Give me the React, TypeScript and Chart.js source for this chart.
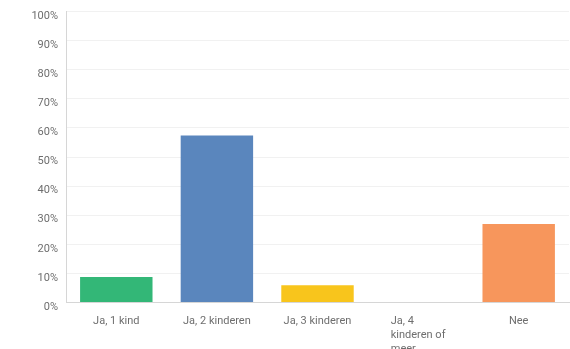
import React, { useEffect, useRef } from "react";
import { Chart, registerables } from "chart.js";

Chart.register(...registerables);

const categories: string[][] = [
  ["Ja, 1 kind"],
  ["Ja, 2 kinderen"],
  ["Ja, 3 kinderen"],
  ["Ja, 4", "kinderen of", "meer"],
  ["Nee"],
];
const values: number[] = [8.8, 57.4, 5.9, 0, 27.0];
const barColors: string[] = ["#33b777", "#5a86bd", "#f8c51c", "#8e8e8e", "#f7965c"];
const yTicks: number[] = [0, 10, 20, 30, 40, 50, 60, 70, 80, 90, 100];

const FONT = "Roboto, 'Liberation Sans', sans-serif";
const LABEL_COLOR = "#6e6e6e";

const xLabelPlugin = {
  id: "xLabelPlugin",
  afterDraw(chart: any) {
    const ctx = chart.ctx;
    const xs = chart.scales.x;
    const bottom = chart.chartArea.bottom;
    ctx.save();
    ctx.font = `11px ${FONT}`;
    ctx.fillStyle = LABEL_COLOR;
    ctx.textAlign = "left";
    ctx.textBaseline = "alphabetic";
    categories.forEach((lines, i) => {
      const cx = xs.getPixelForValue(i);
      const maxW = Math.max(...lines.map((l) => ctx.measureText(l).width));
      const left = cx - maxW / 2;
      lines.forEach((l, j) => {
        ctx.fillText(l, left, bottom + 21 + j * 14);
      });
    });
    ctx.restore();
  },
};

export default function App() {
  const ref = useRef<HTMLCanvasElement>(null);
  useEffect(() => {
    if (!ref.current) return;
    const chart = new Chart(ref.current, {
      type: "bar",
      data: {
        labels: categories.map((c) => c.join(" ")),
        datasets: [
          {
            data: values,
            backgroundColor: barColors,
            borderWidth: 0,
            barPercentage: 0.72,
            categoryPercentage: 1,
          },
        ],
      },
      options: {
        animation: false,
        responsive: false,
        maintainAspectRatio: false,
        layout: { padding: { top: 11.5, right: 1, bottom: 38.5, left: 0 } },
        plugins: { legend: { display: false }, tooltip: { enabled: false } },
        scales: {
          x: {
            grid: { display: false },
            border: { display: true, color: "#d6d6d6", width: 1 },
            ticks: { display: false },
          },
          y: {
            min: 0,
            max: 100,
            afterFit: (s: any) => {
              s.width = 66;
              s.paddingTop = 0;
              s.paddingBottom = 0;
            },
            afterBuildTicks: (s: any) => {
              s.ticks = yTicks.map((v) => ({ value: v }));
            },
            grid: { color: "#f1f1f1", drawTicks: false },
            border: { display: true, color: "#d6d6d6", width: 1 },
            ticks: {
              padding: 8,
              labelOffset: 4.5,
              color: LABEL_COLOR,
              font: { size: 11, family: FONT },
              callback: (v: any) => `${v}%`,
            },
          },
        },
      },
      plugins: [xLabelPlugin],
    });
    return () => chart.destroy();
  }, []);
  return (
    <div style={{ position: "fixed", left: 0, top: 0, width: 570, height: 349, background: "#fff" }}>
      <canvas ref={ref} width={570} height={349} style={{ display: "block" }} />
    </div>
  );
}
